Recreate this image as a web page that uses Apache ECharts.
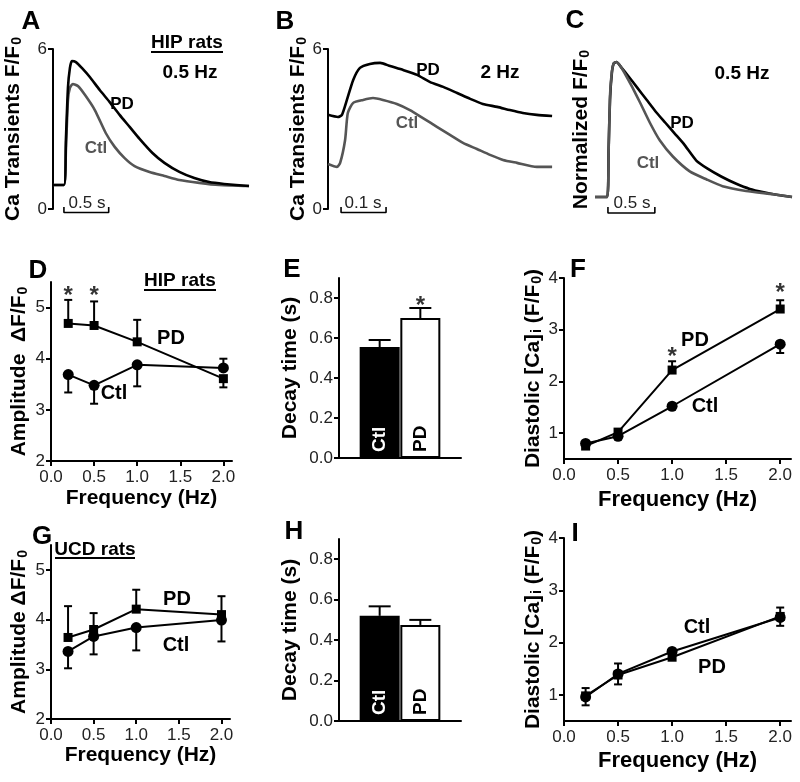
<!DOCTYPE html>
<html><head><meta charset="utf-8">
<script src="https://cdn.jsdelivr.net/npm/echarts@6/dist/echarts.min.js"></script>
<style>html,body{margin:0;padding:0;background:#fff}#c{width:800px;height:782px}</style>
</head><body><div id="c"></div>
<script>
const FF = "'Liberation Sans', Arial, sans-serif";
// ---------- DATA ----------
// Panel A: HIP rats, 0.5 Hz, Ca transients (time s, F/F0)
const aPdTime  = [0,0.122,0.144,0.167,0.189,0.211,0.256,0.322,0.411,0.522,0.633,0.744,0.856,0.967,1.111,1.244,1.411,1.578,1.744,1.911,2.189];
const aPdVal   = [0.9,0.9,2.59,4.54,5.29,5.55,5.51,5.29,4.95,4.46,4.01,3.53,3.08,2.63,2.10,1.73,1.39,1.16,1.01,0.94,0.86];
const aCtlTime = [0,0.122,0.144,0.167,0.189,0.222,0.278,0.356,0.467,0.589,0.689,0.8,0.911,1.078,1.244,1.411,1.633,1.856,2.189];
const aCtlVal  = [0.9,0.9,2.21,4.09,4.54,4.69,4.61,4.28,3.71,2.85,2.33,1.91,1.61,1.39,1.24,1.09,0.98,0.90,0.86];
// Panel B: 2 Hz
const bPdTime  = [0,0.022,0.031,0.042,0.056,0.071,0.093,0.116,0.138,0.167,0.198,0.227,0.256,0.287,0.316,0.344,0.376,0.404,0.433,0.464,0.498];
const bPdVal   = [3.53,3.45,3.53,4.09,4.84,5.29,5.44,5.48,5.36,5.21,5.03,4.76,4.58,4.35,4.13,3.94,3.83,3.71,3.60,3.53,3.49];
const bCtlTime = [0,0.02,0.027,0.038,0.044,0.056,0.078,0.1,0.122,0.153,0.182,0.211,0.242,0.271,0.3,0.331,0.36,0.389,0.42,0.464,0.498];
const bCtlVal  = [1.69,1.58,1.73,2.59,3.60,3.98,4.09,4.16,4.09,3.94,3.71,3.41,3.08,2.78,2.48,2.25,2.03,1.84,1.73,1.58,1.58];
// Panel C: normalized, 0.5 Hz
const cPdTime  = [0,0.13,0.145,0.16,0.18,0.2,0.23,0.28,0.35,0.45,0.55,0.65,0.75,0.85,0.95,1.08,1.2,1.35,1.5,1.65,1.8,1.95,2.1];
const cPdVal   = [0,0,0.35,0.72,0.92,0.99,1.0,0.96,0.9,0.81,0.72,0.63,0.55,0.47,0.39,0.27,0.21,0.15,0.10,0.06,0.035,0.015,0.0];
const cCtlTime = [0,0.13,0.145,0.16,0.18,0.2,0.23,0.27,0.33,0.4,0.48,0.585,0.69,0.83,1.01,1.19,1.36,1.61,1.9,2.1];
const cCtlVal  = [0,0,0.33,0.75,0.93,0.99,1.0,0.97,0.9,0.81,0.70,0.55,0.42,0.30,0.19,0.13,0.08,0.045,0.02,0.0];
// scale bars (start, end in s)
const aScale = [0.122, 0.622], bScale = [0.029, 0.129], cScale = [0.138, 0.638];
// frequencies
const freq = [0.2, 0.5, 1.0, 2.0];
// D: HIP amplitude
const dPd = [4.69,4.65,4.33,3.61], dPdErr = [5.15,5.12,4.76,3.44];
const dCtl = [3.69,3.48,3.88,3.82], dCtlErr = [3.34,3.12,3.46,4.00];
// E: HIP decay time
const barCats = ['Ctl','PD'];
const eVal = [0.555, 0.70], eErr = [0.59, 0.75];
// F: HIP diastolic Ca
const fPd = [0.75,1.02,2.22,3.40], fPdErr = [0.75,1.02,2.39,3.57];
const fCtl = [0.80,0.94,1.52,2.72], fCtlErr = [0.80,0.94,1.55,2.55];
// G: UCD amplitude
const gPd = [3.64,3.80,4.21,4.10], gPdErr = [4.27,4.13,4.60,4.47];
const gCtl = [3.36,3.66,3.84,3.99], gCtlErr = [3.02,3.30,3.38,3.56];
// H: UCD decay time
const hVal = [0.52, 0.475], hErr = [0.567, 0.50];
// I: UCD diastolic Ca
const iCtl = [0.96,1.40,1.83,2.48];
const iPd = [0.98,1.38,1.72,2.50], iPdLo = [0.80,1.20,1.72,2.32], iPdHi = [1.13,1.60,1.72,2.67];
const freqTicks = [0,0.5,1.0,1.5,2.0];

// ---------- HELPERS ----------
const zip = (a,b) => a.map((v,i)=>[v,b[i]]);
const black = '#000';
const nameStyle = (fs) => ({fontSize:fs, fontWeight:'bold', fontFamily:FF, color:black,
  rich:{s:{fontSize:14, fontWeight:'bold', fontFamily:FF, color:black, verticalAlign:'bottom', lineHeight:14, padding:[9,0,0,1]}}});
const aLine = {show:true, onZero:false, lineStyle:{color:black, width:2}};
function yAx(gi, min, max, ticks, fmt, name, gap, fs){
  return {gridIndex:gi, type:'value', min, max, axisLine:aLine,
    axisTick:{show:true, length:5, customValues:ticks, lineStyle:{color:black,width:2}},
    axisLabel:{show:true, customValues:ticks, formatter:fmt, color:'#222', fontSize:17, fontFamily:FF, margin:6},
    splitLine:{show:false}, name, nameLocation:'middle', nameGap:gap, nameRotate:90, nameTextStyle:nameStyle(fs||21)};
}
function xFreq(gi, gap, fs){
  return {gridIndex:gi, type:'value', min:0, max:2.1, axisLine:aLine,
    axisTick:{show:true, length:5, customValues:freqTicks, lineStyle:{color:black,width:2}},
    axisLabel:{show:true, customValues:freqTicks, formatter:v=>v.toFixed(1), color:'#222', fontSize:17, fontFamily:FF, margin:8},
    splitLine:{show:false}, name:'Frequency (Hz)', nameLocation:'middle', nameGap:gap, nameTextStyle:{fontSize:fs||21, fontWeight:'bold', fontFamily:FF, color:black}};
}
function xHidden(gi, max){ return {gridIndex:gi, type:'value', min:0, max, show:false}; }
function xBar(gi){ return {gridIndex:gi, type:'value', min:0, max:3, axisLine:aLine, axisTick:{show:false}, axisLabel:{show:false}, splitLine:{show:false}}; }
function trace(gi, t, v, color, z){
  return {type:'line', xAxisIndex:gi, yAxisIndex:gi, data:zip(t,v), symbol:'none', z,
    smooth:0.2,
    lineStyle:{color, width:2.6, join:'round'}, itemStyle:{color}, silent:true};
}
function scaleBar(gi, s, lo, hi){
  return {type:'line', xAxisIndex:gi, yAxisIndex:gi, clip:false, symbol:'none', silent:true,
    data:[[s[0],hi],[s[0],lo],[s[1],lo],[s[1],hi]], lineStyle:{color:black,width:1.6}};
}
function pts(gi, vals, sym, size){
  return {type:'line', xAxisIndex:gi, yAxisIndex:gi, data:zip(freq, vals), symbol:sym, symbolSize:size, z:4,
    lineStyle:{color:black, width:2}, itemStyle:{color:black}, silent:true};
}
function errs(gi, xs, vals, ends, cap){
  const items = [];
  xs.forEach((x,i)=>{ if (ends[i] !== vals[i]) items.push([x, vals[i], ends[i]]); });
  return {type:'custom', xAxisIndex:gi, yAxisIndex:gi, data:items, z:3, silent:true,
    encode:{x:0, y:[1,2]},
    renderItem(params, api){
      const p0 = api.coord([api.value(0), api.value(1)]);
      const p1 = api.coord([api.value(0), api.value(2)]);
      return {type:'group', children:[
        {type:'line', shape:{x1:p0[0],y1:p0[1],x2:p1[0],y2:p1[1]}, style:{stroke:black,lineWidth:2}},
        {type:'line', shape:{x1:p1[0]-cap/2,y1:p1[1],x2:p1[0]+cap/2,y2:p1[1]}, style:{stroke:black,lineWidth:2}}
      ]};
    }};
}
function stars(gi, arr){
  return {type:'scatter', xAxisIndex:gi, yAxisIndex:gi, data:arr, symbolSize:1, z:6, silent:true,
    itemStyle:{color:'rgba(0,0,0,0)'},
    label:{show:true, formatter:'*', position:'inside', fontSize:24, fontWeight:'bold', fontFamily:FF, color:black}};
}
function bars(gi, vals){
  return {type:'bar', xAxisIndex:gi, yAxisIndex:gi, barWidth:40, silent:true,
    data: vals.map((v,i)=>({value:[i+1, v], name:barCats[i],
      itemStyle: i===0 ? {color:black, borderColor:black, borderWidth:2} : {color:'#fff', borderColor:black, borderWidth:2},
      label:{color: i===0 ? '#fff' : black}})),
    label:{show:true, position:'insideBottom', rotate:90, align:'left', verticalAlign:'middle', distance:6,
      formatter:p=>p.name, fontSize:19, fontWeight:'bold', fontFamily:FF}};
}
function T(text, x, y, size, color, weight){
  return {type:'text', x, y, z:100, silent:true,
    style:{text, fill:color||black, font:(weight||'bold')+' '+size+'px '+FF, align:'center', verticalAlign:'middle'}};
}
function L(x1,y1,x2,y2){ return {type:'line', z:100, silent:true, shape:{x1,y1,x2,y2}, style:{stroke:black, lineWidth:2}}; }

const grids = [
  {left:52, top:49, width:198, height:160},
  {left:328, top:49, width:225, height:160},
  {left:595, top:48.5, width:197, height:162},
  {left:51, top:282, width:181, height:179},
  {left:339, top:278, width:122, height:180},
  {left:564, top:278, width:227, height:181},
  {left:51, top:545, width:179, height:174},
  {left:339, top:539, width:122, height:182},
  {left:564, top:538, width:227, height:183}
];
const int1 = v => String(v);
const fix1 = v => v.toFixed(1);
const option = {
  animation:false, backgroundColor:'#fff',
  grid: grids,
  xAxis: [ xHidden(0,2.2), xHidden(1,0.5), xHidden(2,2.1), xFreq(3,27), xBar(4), xFreq(5,30,22), xFreq(6,26), xBar(7), xFreq(8,29,22) ],
  yAxis: [
    yAx(0,0,6,[0,6],int1,'Ca Transients F/F{s|0}',29),
    yAx(1,0,6,[0,6],int1,'Ca Transients F/F{s|0}',9),
    {gridIndex:2, type:'value', min:-0.1, max:1.1, axisLine:{show:false}, axisTick:{show:false}, axisLabel:{show:false}, splitLine:{show:false},
      name:'Normalized F/F{s|0}', nameLocation:'middle', nameGap:3, nameRotate:90, nameTextStyle:nameStyle(21)},
    yAx(3,2,5.5,[2,3,4,5],int1,'Amplitude  ΔF/F{s|0}',21),
    yAx(4,0,0.9,[0,0.2,0.4,0.6,0.8],fix1,'Decay time (s)',38),
    yAx(5,0.5,4,[1,2,3,4],int1,'Diastolic [Ca]{s|i} (F/F{s|0})',20),
    yAx(6,2,5.5,[2,3,4,5],int1,'Amplitude ΔF/F{s|0}',21),
    yAx(7,0,0.9,[0,0.2,0.4,0.6,0.8],fix1,'Decay time (s)',38),
    yAx(8,0.5,4,[1,2,3,4],int1,'Diastolic [Ca]{s|i} (F/F{s|0})',20)
  ],
  series: [
    trace(0,aCtlTime,aCtlVal,'#555',2), trace(0,aPdTime,aPdVal,'#000',3), scaleBar(0,aScale,-0.13,0.075),
    trace(1,bCtlTime,bCtlVal,'#555',2), trace(1,bPdTime,bPdVal,'#000',3), scaleBar(1,bScale,-0.13,0.075),
    trace(2,cPdTime,cPdVal,'#000',2), trace(2,cCtlTime,cCtlVal,'#555',3), scaleBar(2,cScale,-0.118,-0.074),
    pts(3,dPd,'rect',9), pts(3,dCtl,'circle',11), errs(3,freq,dPd,dPdErr,8), errs(3,freq,dCtl,dCtlErr,8),
    stars(3,[[0.2,5.22],[0.5,5.22]]),
    bars(4,eVal), errs(4,[1,2],eVal,eErr,22), stars(4,[[2,0.76]]),
    pts(5,fPd,'rect',9), pts(5,fCtl,'circle',11), errs(5,freq,fPd,fPdErr,8), errs(5,freq,fCtl,fCtlErr,8),
    stars(5,[[1.0,2.47],[2.0,3.71]]),
    pts(6,gPd,'rect',9), pts(6,gCtl,'circle',11), errs(6,freq,gPd,gPdErr,8), errs(6,freq,gCtl,gCtlErr,8),
    bars(7,hVal), errs(7,[1,2],hVal,hErr,22),
    pts(8,iPd,'rect',9), pts(8,iCtl,'circle',11), errs(8,freq,iPd,iPdHi,8), errs(8,freq,iPd,iPdLo,8)
  ],
  graphic: [
    T('A',31,22,26), T('B',285,22,26), T('C',575,21,26),
    T('D',38,271,26), T('E',292,270,26), T('F',578,270,26),
    T('G',42,537,26), T('H',294,532,26), T('I',575,534,26),
    T('HIP rats',187,43,19), L(151,52,223,52), T('0.5 Hz',190,73,19),
    T('PD',122,104,17), T('Ctl',96,148,17,'#555'),
    T('0.5 s',87,203,17,'#222','normal'),
    T('PD',428,70,17), T('2 Hz',500,73,19), T('Ctl',407,123,17,'#555'),
    T('0.1 s',363,203,17,'#222','normal'),
    T('0.5 Hz',742,74,19), T('PD',682,123,17), T('Ctl',648,163,17,'#555'),
    T('0.5 s',632,203,17,'#222','normal'),
    T('HIP rats',180,281,19), L(144,290,216,290), T('PD',171,338,20), T('Ctl',114,393,20),
    T('PD',695,340,20), T('Ctl',705,406,20),
    T('UCD rats',95,550,19), L(55,558,135,558), T('PD',177,599,20), T('Ctl',176,645,20),
    T('Ctl',697,627,20), T('PD',712,667,20)
  ]
};
const chart = echarts.init(document.getElementById('c'), null, {renderer:'canvas', width:800, height:782});
chart.setOption(option);
</script></body></html>
